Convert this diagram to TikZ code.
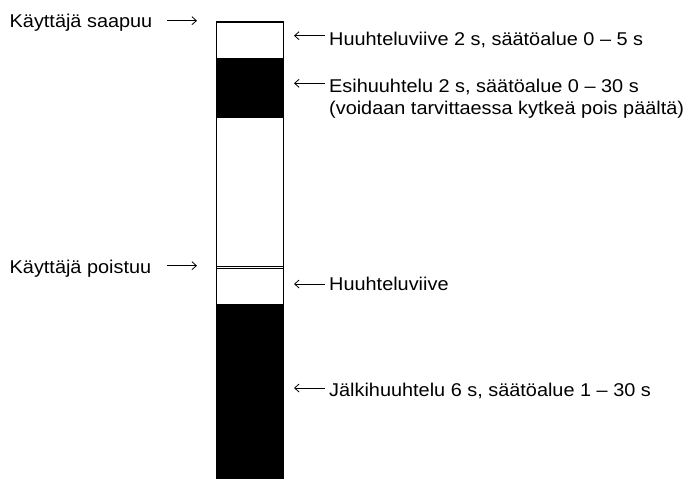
\documentclass[tikz,border=0pt]{standalone}
\usepackage{fontspec}
\setmainfont[FakeStretch=1.075]{Liberation Sans}
\usetikzlibrary{arrows.meta}
\tikzset{
  lbl/.style={anchor=base west, inner sep=0pt, font=\fontsize{18.5}{22}\selectfont},
  ptr/.style={line width=0.8pt, -{Straight Barb[length=4.5pt,width=8pt,line width=0.8pt]}},
  barline/.style={line width=0.8pt, draw=black}
}
\begin{document}
\begin{tikzpicture}[x=1pt,y=-1pt]
\useasboundingbox (0,0) rectangle (689,479);
% bar
\fill[white] (216,21) rectangle (283,479);
\fill[black] (216,58) rectangle (283,118);
\fill[black] (216,304) rectangle (283,479);
\draw[barline] (216,479) -- (216,21) -- (283,21) -- (283,479);
\draw[barline] (216,22.6) -- (283,22.6);
\draw[barline] (216,266.6) -- (283,266.6);
\draw[barline] (216,268.4) -- (283,268.4);
\draw[barline] (216,304) -- (283,304);
% left labels
\node[lbl] (arr) at (9.5,27.3) {Käyttäjä saapuu};
\node[lbl] (dep) at (9.5,273.3) {Käyttäjä poistuu};
\coordinate (arrA) at (167,20.7);
\coordinate (arrB) at (197,20.7);
\coordinate (depA) at (167,265.7);
\coordinate (depB) at (197,265.7);
\draw[ptr] (arrA) -- (arrB);
\draw[ptr] (depA) -- (depB);
% right labels
\node[lbl] (h1) at (329,45.5) {Huuhteluviive 2 s, säätöalue 0 – 5 s};
\node[lbl] (e1) at (329,92.3) {Esihuuhtelu 2 s, säätöalue 0 – 30 s};
\node[lbl] (e2) at (329,114) {(voidaan tarvittaessa kytkeä pois päältä)};
\node[lbl] (h2) at (329,290.5) {Huuhteluviive};
\node[lbl] (j1) at (329,396.7) {Jälkihuuhtelu 6 s, säätöalue 1 – 30 s};
\coordinate (h1a) at (325,35.7);
\coordinate (h1b) at (294,35.7);
\coordinate (e1a) at (325,83.3);
\coordinate (e1b) at (294,83.3);
\coordinate (h2a) at (325,284);
\coordinate (h2b) at (294,284);
\coordinate (j1a) at (325,388);
\coordinate (j1b) at (294,388);
\draw[ptr] (h1a) -- (h1b);
\draw[ptr] (e1a) -- (e1b);
\draw[ptr] (h2a) -- (h2b);
\draw[ptr] (j1a) -- (j1b);
\end{tikzpicture}
\end{document}
